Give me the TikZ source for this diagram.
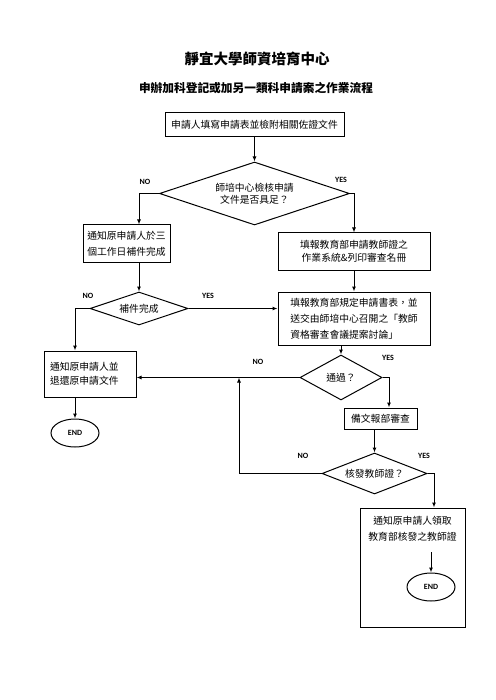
\documentclass[tikz,border=0pt]{standalone}
\usepackage{fontspec}
\setmainfont{Noto Sans CJK TC}
\newfontfamily\lab{Carlito}
\usetikzlibrary{shapes.geometric,arrows.meta,calc}
\begin{document}
\begin{tikzpicture}[x=1pt,y=-1pt,
  box/.style={draw, line width=1pt, inner sep=3pt, align=center, font=\fontsize{9.8}{16}\selectfont},
  dia/.style={draw, diamond, aspect=3, inner sep=0pt, line width=1pt, align=center, font=\fontsize{9.8}{12.5}\selectfont},
  arr/.style={-{Latex[length=5pt,width=4pt]}, line width=1pt},
  lbl/.style={font=\lab\bfseries\fontsize{8}{9}\selectfont, inner sep=0pt},
  term/.style={draw, ellipse, line width=1pt, minimum width=48pt, minimum height=28pt, inner sep=0pt, font=\lab\bfseries\fontsize{8}{9}\selectfont}]
\useasboundingbox (0,0) rectangle (495,700);

\node[font=\bfseries\fontsize{14.5}{16}\selectfont] (title) at (257,59) {靜宜大學師資培育中心};
\node[font=\bfseries\fontsize{11.7}{14}\selectfont] (sub) at (256,88) {申辦加科登記或加另一類科申請案之作業流程};

\node[box, minimum width=179pt, minimum height=24pt] (b1) at (254.5,125) {申請人填寫申請表並檢附相關佐證文件};
\node[dia, minimum width=190pt, minimum height=63pt] (d1) at (254.5,193.5) {師培中心檢核申請\\文件是否具足？};
\node[box, minimum width=87pt, minimum height=37pt] (b2) at (126.5,243.5) {通知原申請人於三\\個工作日補件完成};
\node[box, minimum width=152pt, minimum height=37pt, font=\fontsize{9.8}{13}\selectfont] (b3) at (354,251.5) {填報教育部申請教師證之\\作業系統\&列印審查名冊};
\node[box, minimum width=152pt, minimum height=53pt, align=left] (b4) at (354,318.5) {填報教育部規定申請書表，並\\送交由師培中心召開之「教師\\資格審查會議提案討論」};
\node[dia, minimum width=98pt, minimum height=33pt] (d2) at (139,308.5) {補件完成};
\node[box, minimum width=92pt, minimum height=46pt, text width=80pt, inner xsep=6pt, align=left, font=\fontsize{9.8}{14}\selectfont] (b5) at (90,374) {通知原申請人並\\退還原申請文件};
\node[term] (e1) at (75,433) {END};
\node[dia, minimum width=82pt, minimum height=45pt] (d3) at (341,377.5) {通過？};
\node[box, minimum width=73pt, minimum height=21pt] (b6) at (380.5,418.5) {備文報部審查};
\node[dia, minimum width=105pt, minimum height=41pt] (d4) at (374.5,473.5) {核發教師證？};
\node[draw, line width=1pt, minimum width=105pt, minimum height=119pt, inner sep=0pt] (b7) at (412.5,567.5) {};
\node[align=center, font=\fontsize{9.8}{16}\selectfont] (t7) at (412.5,529) {通知原申請人領取\\教育部核發之教師證};
\node[term] (e2) at (431,587) {END};
\coordinate (s7) at (431,552);
\coordinate (j) at (239,377.5);

\draw[arr] (b1) -- (d1);
\draw[arr] (d1.west) -| ($(b2.north)+(12.5,0)$);
\draw[arr] (d1.east) -| (b3.north);
\draw[arr] (b3) -- (b4);
\draw[arr] (b2.south -| d2.north) -- (d2.north);
\draw[arr] (d2.east) -- (d2.east -| b4.west);
\draw[arr] (d2.west) -| ($(b5.north)+(-15,0)$);
\draw[arr] (b5.south -| e1.north) -- (e1.north);
\draw[arr] (b4.south -| d3.north) -- (d3.north);
\draw[arr] (d3.west) -- (d3.west -| b5.east);
\draw[arr] (d3.east) -| ($(b6.north)+(8.5,0)$);
\draw[arr] (b6.south -| d4.north) -- (d4.north);
\draw[arr] (d4.west) -| (j);
\draw[arr] (d4.east) -| ($(b7.north)+(21.5,0)$);
\draw[arr] (s7) -- (e2.north);

\node[lbl] (n1) at (145,182) {NO};
\node[lbl] (y1) at (341,180) {YES};
\node[lbl] (n2) at (88,296) {NO};
\node[lbl] (y2) at (208,296) {YES};
\node[lbl] (n3) at (258,362) {NO};
\node[lbl] (y3) at (388,358) {YES};
\node[lbl] (n4) at (303,456) {NO};
\node[lbl] (y4) at (424,456) {YES};
\end{tikzpicture}
\end{document}
